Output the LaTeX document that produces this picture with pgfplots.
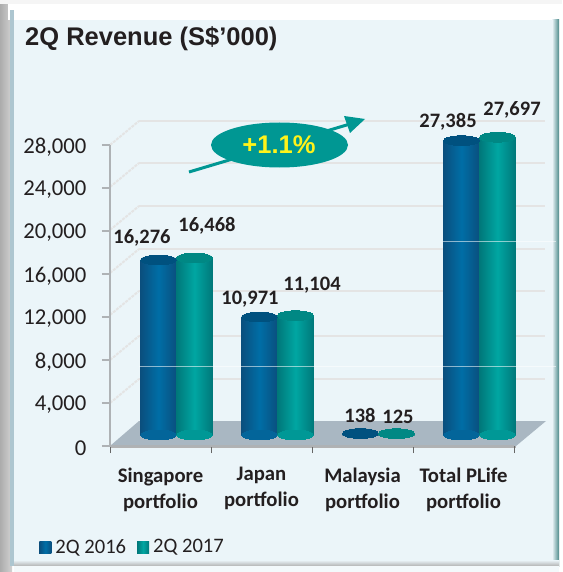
\documentclass[border=0pt]{standalone}
\usepackage{fontspec}
\setmainfont{Carlito}
\newfontfamily\arial{Liberation Sans}
\usepackage{pgfplots}
\pgfplotsset{compat=1.18}

\definecolor{panel}{HTML}{EBF5F9}
\definecolor{ink}{HTML}{231F20}
\definecolor{bluemid}{HTML}{006EA6}
\definecolor{blueedge}{HTML}{0A4F7E}
\definecolor{bluetop}{HTML}{00517F}
\definecolor{tealmid}{HTML}{00A6A2}
\definecolor{tealedge}{HTML}{00787A}
\definecolor{tealtop}{HTML}{008884}
\definecolor{wallgrid}{HTML}{E4E4E4}
\definecolor{floorgray}{HTML}{A9B7C2}
\definecolor{axisgray}{HTML}{AEB2B5}

\pgfplotsset{
  bluebar/.style={ybar,bar width=36pt,bar shift=-18pt,xshift=16pt,yshift=11pt,draw=none,
    left color=blueedge,right color=blueedge,middle color=bluemid},
  tealbar/.style={ybar,bar width=36pt,bar shift=18pt,xshift=16pt,yshift=11pt,draw=none,
    left color=tealedge,right color=tealedge,middle color=tealmid},
  cap/.style={forget plot,only marks,mark=*,mark size=18pt,color=#1,
    mark options={yscale=.27,solid,draw=#1,fill=#1,line width=0pt},yshift=11pt},
}

\begin{document}
\begin{tikzpicture}
\useasboundingbox (0,0) rectangle (562pt,-572pt);
% slide panel
\fill[white] (0,0) rectangle (562pt,-572pt);
\shade[left color=gray!65, right color=gray!35] (0,0) rectangle (12pt,-572pt);
\fill[black!4] (0,0) rectangle (562pt,-4pt);
\fill[white] (8pt,-4pt) rectangle (560pt,-20pt);
\fill[panel] (12pt,-20pt) rectangle (556pt,-564pt);
\fill[white!70!cyan!60!gray] (10pt,-10pt) rectangle (14pt,-566pt);
\shade[left color=panel, right color=black!40!cyan!40!gray] (552pt,-20pt) rectangle (559pt,-566pt);
\shade[top color=panel, bottom color=black!30] (14pt,-560pt) rectangle (559pt,-566pt);
\fill[panel!60!white] (14pt,-566pt) rectangle (559pt,-572pt);

% back wall and floor
\fill[floorgray] (110pt,-446pt) -- (139pt,-421pt) -- (546pt,-421pt) -- (516pt,-446pt) -- cycle;
\foreach \y in {121,163,206,249,291,336,379}{
  \draw[wallgrid,line width=2.2pt] (139pt,-\y pt) -- (545pt,-\y pt);
  \draw[wallgrid,line width=2pt,dash pattern=on 3pt off 1pt] (110pt,-\y pt-24pt) -- (139pt,-\y pt);
}
\draw[gray!60,line width=1.5pt] (110pt,-447pt) -- (516pt,-447pt);

\begin{axis}[
    at={(110pt,-446pt)},
    anchor=south west,
    scale only axis,
    width=404pt,
    height=301pt,
    xmin=-0.5, xmax=3.5,
    ymin=0, ymax=28000,
    clip=false,
    axis lines*=left,
    axis line style={-,axisgray,line width=1.6pt},
    tick align=outside,
    xtick={0,1,2,3},
    xticklabels={{Singapore\\portfolio},{Japan\\portfolio},{Malaysia\\portfolio},{Total PLife\\portfolio}},
    minor xtick={-0.5,0.5,1.5,2.5,3.5},
    major x tick style={draw=none},
    minor x tick style={draw=gray!80!black,line width=1pt},
    minor tick length=7pt,
    ytick={0,4000,...,28000},
    major y tick style={draw=axisgray,line width=1.2pt},
    major tick length=8pt,
    scaled y ticks=false,
    yticklabel style={/pgf/number format/assume math mode=true,/pgf/number format/1000 sep={,},
      font=\fontsize{22.7}{26}\selectfont,text=ink,xshift=-12pt,yshift=-2pt},
    xticklabel style={align=center,font=\fontsize{20.7}{26}\selectfont\bfseries,text=ink,yshift=-10pt},
    legend style={at={(-0.148,-0.335)},anchor=west,legend columns=2,draw=none,fill=none,
      font=\fontsize{20.6}{24}\selectfont,text=ink,
      /tikz/every even column/.append style={column sep=23pt}},
    legend cell align=left,
]
% 2Q 2016
\addplot[bluebar,
    legend image code/.code={\fill[bluetop,overlay] (-30pt,-18pt) rectangle (-18pt,-6pt);}]
    coordinates {(0,16276)};
\addlegendentry{2Q 2016}
\addplot[bluebar,forget plot] coordinates {(1,10971)};
\addplot[bluebar,forget plot] coordinates {(2,138)};
\addplot[bluebar,forget plot] coordinates {(3,27385)};
\addplot[cap=bluemid!70!blueedge,xshift=-2pt] coordinates {(0,0) (1,0) (3,0)};
\addplot[cap=bluetop,xshift=-2pt] coordinates {(0,16276) (1,10971) (2,138) (3,27385)};
% 2Q 2017
\addplot[tealbar,
    legend image code/.code={\fill[tealtop!50!tealmid,overlay] (-30pt,-18pt) rectangle (-18pt,-6pt);}]
    coordinates {(0,16468)};
\addlegendentry{2Q 2017}
\addplot[tealbar,forget plot] coordinates {(1,11104)};
\addplot[tealbar,forget plot] coordinates {(2,125)};
\addplot[tealbar,forget plot] coordinates {(3,27697)};
\addplot[cap=tealmid!70!tealedge,xshift=34pt] coordinates {(0,0) (1,0) (3,0)};
\addplot[cap=tealtop,xshift=34pt] coordinates {(0,16468) (1,11104) (2,125) (3,27697)};
\end{axis}

% faint slide artefacts over the bars
\draw[white,opacity=.55,line width=.8pt] (139pt,-366pt) -- (556pt,-366pt);
\draw[white,opacity=.55,line width=.8pt] (443pt,-241pt) -- (556pt,-241pt);

% title
\node[anchor=base west,inner sep=0pt,text=ink] at (25pt,-46pt)
  {\arial\bfseries\fontsize{25.5}{28}\selectfont 2Q Revenue (S\$’000)};

% value labels
\begin{scope}[every node/.style={text=ink,inner sep=0pt,font=\fontsize{20.5}{24}\selectfont\bfseries}]
\node at (142pt,-238pt) {16,276};
\node at (207pt,-226pt) {16,468};
\node at (250pt,-299pt) {10,971};
\node at (312pt,-285pt) {11,104};
\node at (360pt,-415pt) {138};
\node at (398pt,-417pt) {125};
\node at (448pt,-122pt) {27,385};
\node at (512pt,-110pt) {27,697};
\end{scope}

% growth callout
\draw[tealtop!50!tealmid,line width=3pt] (189pt,-172pt) -- (350pt,-124pt);
\fill[tealtop!50!tealmid] (365pt,-119pt) -- (344pt,-116pt) -- (350pt,-133pt) -- cycle;
\fill[tealtop!50!tealmid] (279.5pt,-145pt) ellipse (68.5pt and 22.5pt);
\node[text=yellow!90!white,inner sep=0pt] at (279pt,-145pt)
  {\arial\bfseries\fontsize{25.5}{28}\selectfont +1.1\%};
\end{tikzpicture}
\end{document}
